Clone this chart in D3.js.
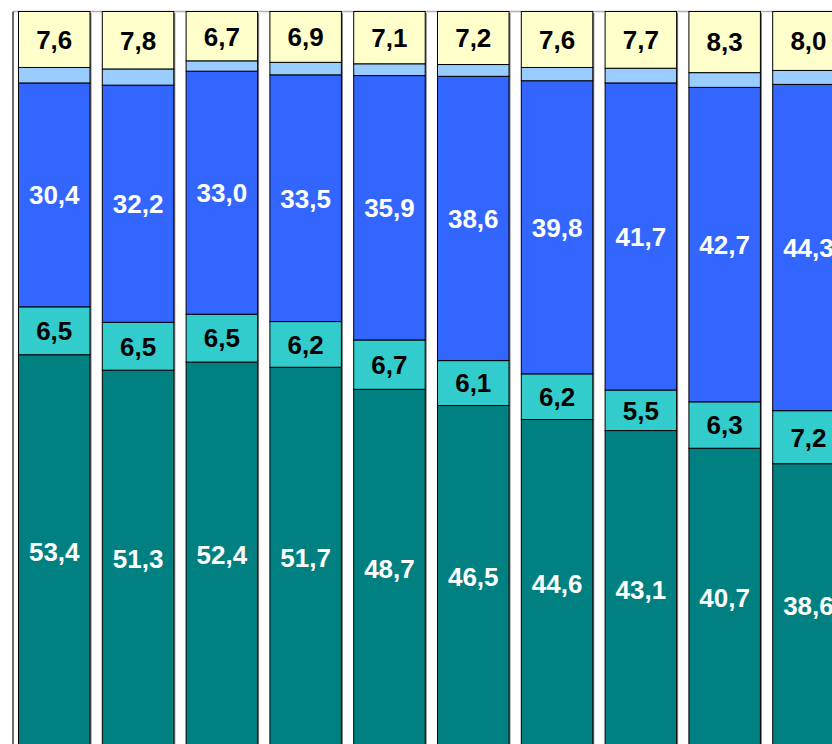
<!DOCTYPE html>
<html>
<head>
<meta charset="utf-8">
<script src="https://cdn.jsdelivr.net/npm/d3@7"></script>
<style>
  html, body { margin: 0; padding: 0; background: #fff; overflow: hidden; }
  svg { display: block; }
</style>
</head>
<body>
<svg id="chart" width="832" height="744"></svg>
<script>
// ---- Data (percent shares, bottom to top) ----
const categories = ["1", "2", "3", "4", "5", "6", "7", "8", "9", "10"];
const seriesNames = ["s1", "s2", "s3", "s4", "s5"];
const s1 = [53.4, 51.3, 52.4, 51.7, 48.7, 46.5, 44.6, 43.1, 40.7, 38.6]; // dark teal
const s2 = [6.5, 6.5, 6.5, 6.2, 6.7, 6.1, 6.2, 5.5, 6.3, 7.2];          // teal
const s3 = [30.4, 32.2, 33.0, 33.5, 35.9, 38.6, 39.8, 41.7, 42.7, 44.3]; // blue
const s4 = [2.1, 2.2, 1.4, 1.7, 1.6, 1.6, 1.8, 2.0, 2.0, 1.9];           // light blue (unlabelled)
const s5 = [7.6, 7.8, 6.7, 6.9, 7.1, 7.2, 7.6, 7.7, 8.3, 8.0];           // light yellow
const yTicks = [0, 100];

const colors = ["#008080", "#33CCCC", "#3366FF", "#99CCFF", "#FFFFCC"];
const labelColors = ["#ffffff", "#000000", "#ffffff", null, "#000000"];

const table = categories.map((c, i) => ({
  cat: c, s1: s1[i], s2: s2[i], s3: s3[i], s4: s4[i], s5: s5[i]
}));

const svg = d3.select("#chart");

const x = d3.scaleBand()
  .domain(categories)
  .range([13, 849.7])
  .paddingInner(0.1468)
  .paddingOuter(0.0656);

const y = d3.scaleLinear().domain([0, 100]).range([748, 11.5]);

// top gridline
svg.append("line")
  .attr("x1", 13).attr("x2", 832)
  .attr("y1", y(100)).attr("y2", y(100))
  .attr("stroke", "#b0b0b0").attr("stroke-width", 1.5);

// left axis
svg.append("line")
  .attr("x1", 13).attr("x2", 13)
  .attr("y1", y(100)).attr("y2", 744)
  .attr("stroke", "#6a6a6a").attr("stroke-width", 2);

const stack = d3.stack().keys(seriesNames);
const stacked = stack(table);

// shadows
svg.append("g").selectAll("rect")
  .data(table)
  .join("rect")
  .attr("x", d => x(d.cat) + 1.5)
  .attr("y", y(100) + 1.5)
  .attr("width", x.bandwidth())
  .attr("height", y(0) - y(100))
  .attr("fill", "#777");

const layers = svg.append("g").selectAll("g")
  .data(stacked)
  .join("g")
  .attr("fill", (d, i) => colors[i]);

layers.selectAll("rect")
  .data(d => d)
  .join("rect")
  .attr("x", d => x(d.data.cat))
  .attr("y", d => y(d[1]))
  .attr("width", x.bandwidth())
  .attr("height", d => y(d[0]) - y(d[1]))
  .attr("stroke", "#000")
  .attr("stroke-width", 1);

// labels
stacked.forEach((layer, li) => {
  if (!labelColors[li]) return;
  svg.append("g").selectAll("text")
    .data(layer)
    .join("text")
    .attr("x", d => x(d.data.cat) + x.bandwidth() / 2)
    .attr("y", d => (y(d[0]) + y(d[1])) / 2)
    .attr("dy", "0.36em")
    .attr("text-anchor", "middle")
    .attr("font-family", "'Liberation Sans', Arial, sans-serif")
    .attr("font-weight", "bold")
    .attr("font-size", 26)
    .attr("fill", labelColors[li])
    .text(d => d3.format(".1f")(d[1] - d[0]).replace(".", ","));
});
</script>
</body>
</html>
